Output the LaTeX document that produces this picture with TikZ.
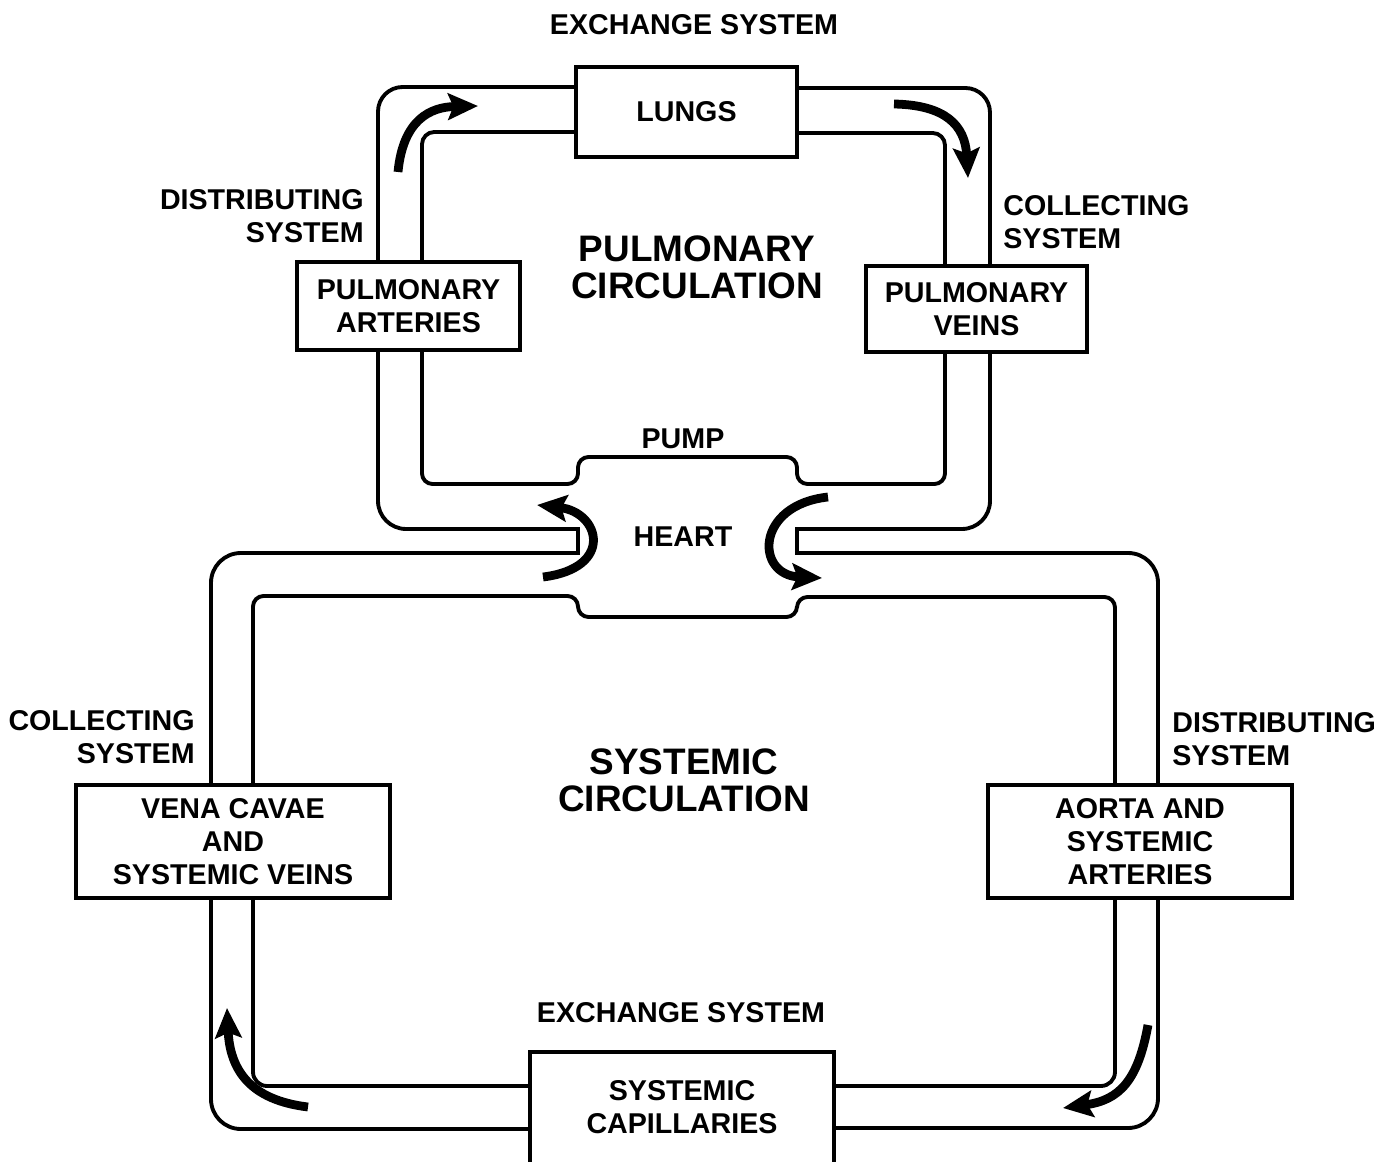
\documentclass[tikz,border=0pt]{standalone}
\usepackage{fontspec}
\setmainfont{Liberation Sans}
\usetikzlibrary{arrows.meta, positioning}
\newcommand{\boxfont}{\fontsize{16.3}{18.7}\selectfont\bfseries}
\newcommand{\circfont}{\fontsize{21}{21}\selectfont\bfseries}

\begin{document}
\begin{tikzpicture}[x=0.02cm, y=-0.02cm,
  organ/.style={draw, line width=2.2pt, align=center, inner sep=0pt, font=\boxfont},
  lbl/.style={align=center, inner sep=0pt, font=\boxfont},
  tube/.style={line width=2.2pt, line cap=rect},
  flow/.style={line width=5pt, -{Stealth[length=17pt, width=15pt, inset=3pt]}}]
\useasboundingbox (0,0) rectangle (1383,1162);

% organs
\node[organ, minimum width=4.42cm, minimum height=1.8cm] (lungs) at (686.5,112) {LUNGS};
\node[organ, minimum width=4.46cm, minimum height=1.76cm] (pa) at (408.5,306) {PULMONARY\\ARTERIES};
\node[organ, minimum width=4.42cm, minimum height=1.72cm] (pv) at (976.5,309) {PULMONARY\\VEINS};
\node[organ, minimum width=6.28cm, minimum height=2.26cm] (vc) at (233,841.5) {VENA CAVAE\\AND\\SYSTEMIC VEINS};
\node[organ, minimum width=6.08cm, minimum height=2.26cm] (ao) at (1140,841.5) {AORTA AND\\SYSTEMIC\\ARTERIES};
\node[lbl, minimum width=6.08cm, minimum height=2.2cm] (cap) at (682,1107) {SYSTEMIC\\CAPILLARIES};
\draw[tube, line cap=butt] (cap.south west) -- (cap.north west) -- (cap.north east) -- (cap.south east);

% labels
\node[lbl] (exch1) at (694,25) {EXCHANGE SYSTEM};
\node[lbl, align=right, anchor=east] (dist1) at (364,216) {DISTRIBUTING\\SYSTEM};
\node[lbl, align=left, anchor=west] (coll1) at (1003,222) {COLLECTING\\SYSTEM};
\node[lbl, font=\circfont] (pulm) at (697,267) {PULMONARY\\CIRCULATION};
\node[lbl] (pump) at (683,439) {PUMP};
\node[lbl] (heart) at (683,537) {HEART};
\node[lbl, align=right, anchor=east] (coll2) at (195,737) {COLLECTING\\SYSTEM};
\node[lbl, font=\circfont] (syst) at (684,780) {SYSTEMIC\\CIRCULATION};
\node[lbl, align=left, anchor=west] (dist2) at (1172,739) {DISTRIBUTING\\SYSTEM};
\node[lbl] (exch2) at (681,1013) {EXCHANGE SYSTEM};

% pulmonary circuit
\draw[tube, rounded corners=14pt] (lungs.west |- 0,87) -- (378,87) -- (378,0 |- pa.north);
\draw[tube, rounded corners=7pt] (lungs.west |- 0,132) -- (422,132) -- (422,0 |- pa.north);
\draw[tube, rounded corners=16pt] (378,0 |- pa.south) -- (378,529) -- (578,529);
\draw[tube, rounded corners=6pt] (422,0 |- pa.south) -- (422,484) -- (578,484) -- (578,457) -- (797,457) -- (797,484) -- (945,484) -- (945,0 |- pv.south);
\draw[tube, rounded corners=16pt] (990,0 |- pv.south) -- (990,529) -- (797,529);
\draw[tube, rounded corners=14pt] (lungs.east |- 0,88) -- (990,88) -- (990,0 |- pv.north);
\draw[tube, rounded corners=7pt] (lungs.east |- 0,133) -- (945,133) -- (945,0 |- pv.north);
% closed ends beside the heart
\draw[tube] (578,529) -- (578,553);
\draw[tube] (797,529) -- (797,553);

% systemic circuit
\draw[tube, rounded corners=17pt] (578,553) -- (211,553) -- (211,0 |- vc.north);
\draw[tube, rounded corners=6pt] (253,0 |- vc.north) -- (253,596) -- (578,596) -- (578,617) -- (797,617) -- (797,597) -- (1115,597) -- (1115,0 |- ao.north);
\draw[tube, rounded corners=17pt] (797,553) -- (1158,553) -- (1158,0 |- ao.north);
\draw[tube, rounded corners=17pt] (211,0 |- vc.south) -- (211,1129) -- (cap.west |- 0,1129);
\draw[tube, rounded corners=8pt] (253,0 |- vc.south) -- (253,1086) -- (cap.west |- 0,1086);
\draw[tube, rounded corners=8pt] (cap.east |- 0,1086) -- (1115,1086) -- (1115,0 |- ao.south);
\draw[tube, rounded corners=17pt] (cap.east |- 0,1128) -- (1158,1128) -- (1158,0 |- ao.south);

% flow arrows
\draw[flow] (398,172) .. controls (403,120) and (430,107) .. (478,106);
\draw[flow] (894,104) .. controls (945,105) and (965,125) .. (968,178);
\draw[flow] (543,577) .. controls (615,568) and (600,512) .. (537,505);
\draw[flow] (828,497) .. controls (755,505) and (755,575) .. (822,578);
\draw[flow] (1148,1025) .. controls (1138,1080) and (1120,1100) .. (1063,1108);
\draw[flow] (308,1107) .. controls (250,1100) and (230,1070) .. (227,1008);
\end{tikzpicture}
\end{document}
